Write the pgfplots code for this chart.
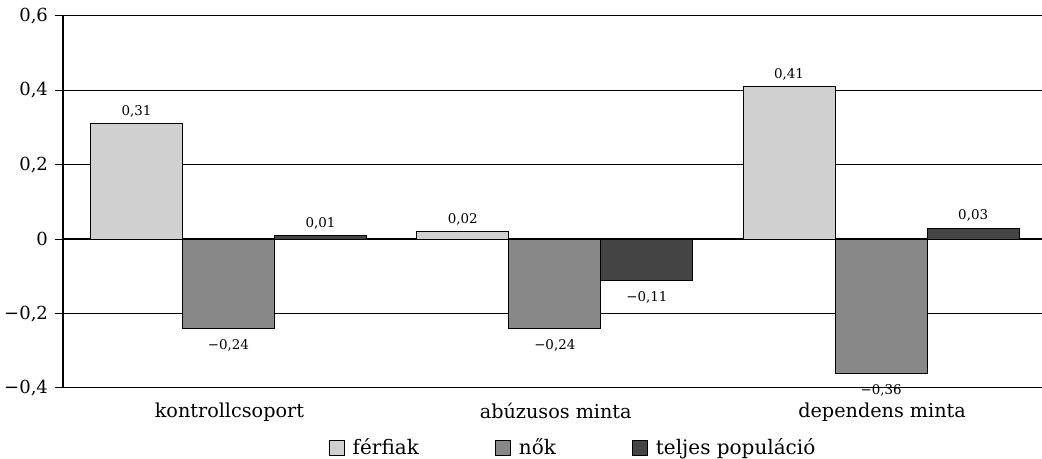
\documentclass[border=0pt]{standalone}
\usepackage{fontspec}
\setmainfont{DejaVu Serif}
\usepackage{pgfplots}
\pgfplotsset{compat=1.18}
\definecolor{cF}{HTML}{D0D0D0}
\definecolor{cN}{HTML}{888888}
\definecolor{cT}{HTML}{444444}
\newcommand\vlabel{%
  \pgfmathfloattofixed{\pgfplotspointmeta}\let\fv\pgfmathresult
  \pgfmathsetmacro\absv{abs(\fv)}%
  \ifdim\fv pt<0pt \rule{0pt}{7.5pt}−\fi
  \pgfmathprintnumber[fixed,fixed zerofill,precision=2,use comma,assume math mode=true]{\absv}}
\begin{document}
\begin{tikzpicture}
\begin{axis}[
  at={(0,0)}, anchor=south west,
  scale only axis, width=489.5pt, height=186pt,
  xmin=-0.5, xmax=2.5, ymin=-0.4, ymax=0.6,
  ybar, bar width=0.282,
  axis x line*=bottom, axis y line*=left,
  y axis line style={line width=1.3pt},
  x axis line style={line width=0.5pt},
  xtick={0.01,1.01,2.01},
  xticklabels={kontrollcsoport, abúzusos minta, dependens minta},
  x tick style={draw=none},
  ytick={-0.4,-0.2,0,0.2,0.4,0.6},
  yticklabels={{−0,4},{−0,2},{0},{0,2},{0,4},{0,6}},
  tick align=outside, major tick length=4pt,
  y tick style={black, line width=0.5pt},
  ymajorgrids, grid style={black, line width=0.5pt},
  extra y ticks={0}, extra y tick labels={},
  extra y tick style={grid style={black, line width=1.1pt}, major tick length=0pt},
  yticklabel style={font=\fontsize{9}{10}\selectfont},
  xticklabel style={font=\fontsize{9.6}{10}\selectfont, yshift=0pt},
  legend columns=3,
  legend style={draw=none, at={(0.522,-0.161)}, anchor=center,
    font=\fontsize{10}{11}\selectfont,
    /tikz/every odd column/.append style={column sep=2pt},
    /tikz/every even column/.append style={column sep=36pt}},
  legend image code/.code={\draw[#1, line width=0.5pt] (0pt,-3.75pt) rectangle (7.5pt,3.75pt);},
  point meta=y,
  nodes near coords={\vlabel},
  nodes near coords style={font=\fontsize{6.7}{7}\selectfont, text=black, inner sep=3pt},
]
\addplot[bar shift=-0.275, fill=cF, draw=black, line width=0.5pt]
  coordinates {(0,0.31) (1,0.02) (2,0.41)};
\addlegendentry{férfiak}
\addplot[bar shift=0.007, fill=cN, draw=black, line width=0.5pt]
  coordinates {(0,-0.24) (1,-0.24) (2,-0.36)};
\addlegendentry{nők}
\addplot[bar shift=0.289, fill=cT, draw=black, line width=0.5pt]
  coordinates {(0,0.01) (1,-0.11) (2,0.03)};
\addlegendentry{teljes populáció}
\end{axis}
\pgfresetboundingbox
\path[use as bounding box] (-31.5pt,-35.5pt) rectangle (489.5pt,194pt);
\end{tikzpicture}
\end{document}
